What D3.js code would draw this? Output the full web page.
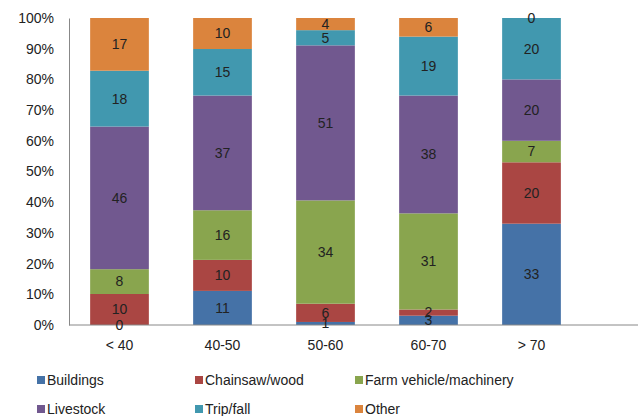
<!DOCTYPE html>
<html><head><meta charset="utf-8">
<script src="https://cdn.jsdelivr.net/npm/d3@7"></script>
<style>body{margin:0;background:#fff}svg{display:block;font-family:"Liberation Sans",Arial,sans-serif}</style>
</head><body><svg id="c" width="638" height="416"></svg>
<script>
const categories = ["< 40", "40-50", "50-60", "60-70", "> 70"];
const seriesNames = ["Buildings", "Chainsaw/wood", "Farm vehicle/machinery", "Livestock", "Trip/fall", "Other"];
const buildings = [0, 11, 1, 3, 33];
const chainsaw = [10, 10, 6, 2, 20];
const farm = [8, 16, 34, 31, 7];
const livestock = [46, 37, 51, 38, 20];
const tripfall = [18, 15, 5, 19, 20];
const other = [17, 10, 4, 6, 0];
const colors = ["#4572A7", "#AA4643", "#89A54E", "#71588F", "#4198AF", "#DB843D"];
const yTicks = [0, 0.1, 0.2, 0.3, 0.4, 0.5, 0.6, 0.7, 0.8, 0.9, 1];

const seriesVals = [buildings, chainsaw, farm, livestock, tripfall, other];
const rows = categories.map((c, i) => {
  const r = {cat: c};
  seriesNames.forEach((s, j) => r[s] = seriesVals[j][i]);
  return r;
});
const stack = d3.stack().keys(seriesNames).offset(d3.stackOffsetExpand);
const stacked = stack(rows);

const svg = d3.select("#c");
const x = d3.scaleBand().domain(categories).range([68, 583]).paddingInner(0.43).paddingOuter(0.215);
const y = d3.scaleLinear().domain([0, 1]).range([325, 18]);
const FS = 14;

const yAxis = d3.axisLeft(y).tickValues(yTicks).tickFormat(d3.format(".0%")).tickSize(0).tickPadding(15);
const gy = svg.append("g").attr("transform", "translate(69,0)").call(yAxis);
gy.select(".domain").attr("stroke", "#888");
gy.selectAll("text").attr("font-size", FS).attr("fill", "#222").attr("font-family", "Liberation Sans, Arial, sans-serif");

const layers = svg.append("g").selectAll("g").data(stacked).join("g").attr("fill", (d, i) => colors[i]);
layers.selectAll("rect").data(d => d).join("rect")
  .attr("x", d => x(d.data.cat))
  .attr("width", x.bandwidth())
  .attr("y", d => y(d[1]))
  .attr("height", d => y(d[0]) - y(d[1]));

const xAxis = d3.axisBottom(x).tickSize(0).tickPadding(15);
const gx = svg.append("g").attr("transform", "translate(0,325)").call(xAxis);
gx.select(".domain").attr("stroke", "#888").attr("d", "M69,0H638");
gx.selectAll("text").attr("font-size", FS).attr("fill", "#222").attr("font-family", "Liberation Sans, Arial, sans-serif");

const lab = svg.append("g");
stacked.forEach((layer, j) => {
  layer.forEach((d, i) => {
    lab.append("text")
      .attr("x", x(d.data.cat) + x.bandwidth() / 2)
      .attr("y", y((d[0] + d[1]) / 2))
      .attr("dy", "0.35em")
      .attr("text-anchor", "middle")
      .attr("font-size", FS)
      .attr("fill", "#222")
      .text(seriesVals[j][i]);
  });
});

const legX = [37, 195, 355], legY = [380, 409];
const leg = svg.append("g");
seriesNames.forEach((s, i) => {
  const gx0 = legX[i % 3], gy0 = legY[Math.floor(i / 3)];
  leg.append("rect").attr("x", gx0).attr("y", gy0 - 4).attr("width", 8).attr("height", 8).attr("fill", colors[i]);
  leg.append("text").attr("x", gx0 + 10).attr("y", gy0).attr("dy", "0.35em").attr("font-size", FS).attr("fill", "#222").text(s);
});
</script></body></html>
